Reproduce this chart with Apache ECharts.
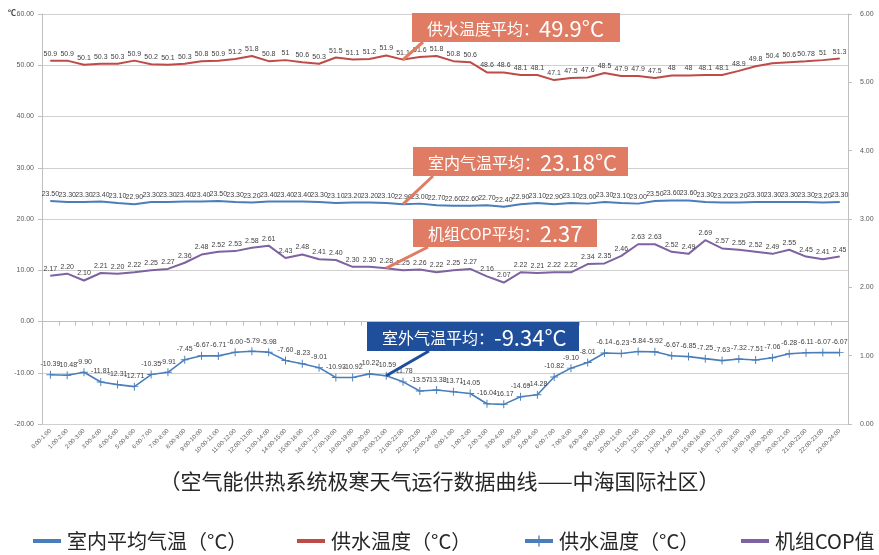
<!DOCTYPE html>
<html>
<head>
<meta charset="utf-8">
<script src="https://cdn.jsdelivr.net/npm/echarts@6/dist/echarts.min.js"></script>
<style>
html,body{margin:0;padding:0;background:#fff;}
#chart{width:879px;height:555px;}
</style>
</head>
<body>
<div id="chart"></div>
<script>
const hourSlots = ["0:00-1:00","1:00-2:00","2:00-3:00","3:00-4:00","4:00-5:00","5:00-6:00","6:00-7:00","7:00-8:00","8:00-9:00","9:00-10:00","10:00-11:00","11:00-12:00","12:00-13:00","13:00-14:00","14:00-15:00","15:00-16:00","16:00-17:00","17:00-18:00","18:00-19:00","19:00-20:00","20:00-21:00","21:00-22:00","22:00-23:00","23:00-24:00"];
const categories = hourSlots.concat(hourSlots);

const indoorTemp = [23.5,23.3,23.3,23.4,23.1,22.9,23.3,23.3,23.4,23.4,23.5,23.3,23.2,23.4,23.4,23.4,23.3,23.1,23.2,23.2,23.1,22.9,23.0,22.7,
  22.6,22.6,22.7,22.4,22.9,23.1,22.9,23.1,23.0,23.3,23.1,23.0,23.5,23.6,23.6,23.3,23.2,23.2,23.3,23.3,23.3,23.3,23.2,23.3];
const supplyTemp = [50.9,50.9,50.1,50.3,50.3,50.9,50.2,50.1,50.3,50.8,50.9,51.2,51.8,50.8,51,50.6,50.3,51.5,51.1,51.2,51.9,51.1,51.6,51.8,
  50.8,50.6,48.6,48.6,48.1,48.1,47.1,47.5,47.6,48.5,47.9,47.9,47.5,48,48,48.1,48.1,48.9,49.8,50.4,50.6,50.78,51,51.3];
const outdoorTemp = [-10.39,-10.48,-9.90,-11.81,-12.31,-12.71,-10.35,-9.91,-7.45,-6.67,-6.71,-6.00,-5.79,-5.98,-7.60,-8.23,-9.01,-10.93,-10.92,-10.22,-10.59,-11.78,-13.57,-13.38,
  -13.71,-14.05,-16.04,-16.17,-14.69,-14.28,-10.82,-9.10,-8.01,-6.14,-6.23,-5.84,-5.92,-6.67,-6.85,-7.25,-7.63,-7.32,-7.51,-7.06,-6.28,-6.11,-6.07,-6.07];
const copValues = [2.17,2.20,2.10,2.21,2.20,2.22,2.25,2.27,2.36,2.48,2.52,2.53,2.58,2.61,2.43,2.48,2.41,2.40,2.30,2.30,2.28,2.25,2.26,2.22,
  2.25,2.27,2.16,2.07,2.22,2.21,2.22,2.22,2.34,2.35,2.46,2.63,2.63,2.52,2.49,2.69,2.57,2.55,2.52,2.49,2.55,2.45,2.41,2.45];

const seriesNames = ["室内平均气温（°C）","供水温度（°C）","供水温度（°C） ","机组COP值"];
const legendLabels = ["室内平均气温（°C）","供水温度（°C）","供水温度（°C）","机组COP值"];
const titleText = "（空气能供热系统极寒天气运行数据曲线——中海国际社区）";
const notes = [
  {label:"供水温度平均：", value:"49.9°C"},
  {label:"室内气温平均：", value:"23.18°C"},
  {label:"机组COP平均：", value:"2.37"},
  {label:"室外气温平均：", value:"-9.34°C"}
];

const FONT = '"Noto Sans CJK SC","Noto Sans",sans-serif';
const SMALLFONT = '"Liberation Sans",Arial,sans-serif';
const cBlue = '#4A7EBB', cRed = '#BE4B48', cPurple = '#7E62A1';
const plusPath = 'path://M4.4,0H5.6V4.4H10V5.6H5.6V10H4.4V5.6H0V4.4H4.4Z';

const chart = echarts.init(document.getElementById('chart'), null, {renderer:'canvas'});

function lbl(fmt){
  return {show:true, position:'top', distance:3, fontSize:7, color:'#404040', fontFamily:SMALLFONT, formatter:fmt};
}

function legendAt(left, idx, withSymbol){
  const lg = {
    left:left, top:531, padding:0, itemWidth:28, itemHeight:withSymbol ? 14 : 4, itemGap:5,
    data:[{name:seriesNames[idx]}],
    formatter:function(){return legendLabels[idx];},
    textStyle:{fontSize:20, color:'#262626', fontFamily:FONT, padding:[0,0,0,1]},
    selectedMode:false
  };
  if (withSymbol) { lg.lineStyle = {width:4}; }
  else { lg.icon = 'rect'; }
  return lg;
}

const option = {
  animation:false,
  textStyle:{fontFamily:FONT},
  grid:{left:42, right:31, top:14, bottom:131, containLabel:false},
  legend:[legendAt(33,0,false), legendAt(297,1,false), legendAt(523,2,true), legendAt(741,3,false)],
  xAxis:{
    type:'category', data:categories, boundaryGap:true,
    axisLine:{lineStyle:{color:'#BFBFBF'}},
    axisTick:{show:true, interval:0, length:4, lineStyle:{color:'#BFBFBF'}},
    axisLabel:{interval:0, rotate:45, fontSize:6, color:'#595959', margin:6, fontFamily:SMALLFONT}
  },
  yAxis:[
    {type:'value', min:-20, max:60, interval:10, position:'left',
     axisLine:{show:true, lineStyle:{color:'#BFBFBF'}},
     axisTick:{show:true, length:4, lineStyle:{color:'#BFBFBF'}},
     axisLabel:{fontSize:7, color:'#595959', margin:8, formatter:v=>v.toFixed(2), fontFamily:SMALLFONT},
     splitLine:{show:true, lineStyle:{color:'#D0D0D0', width:1}}},
    {type:'value', min:0, max:6, interval:1, position:'right',
     axisLine:{show:true, lineStyle:{color:'#BFBFBF'}},
     axisTick:{show:true, length:4, lineStyle:{color:'#BFBFBF'}},
     axisLabel:{fontSize:7, color:'#595959', margin:12, formatter:v=>v.toFixed(2), fontFamily:SMALLFONT},
     splitLine:{show:false}}
  ],
  series:[
    {name:seriesNames[0], type:'line', yAxisIndex:0, data:indoorTemp, symbol:'circle', symbolSize:1, showSymbol:true, color:cBlue,
     itemStyle:{color:cBlue}, lineStyle:{color:cBlue, width:2}, label:lbl(p=>p.value.toFixed(2))},
    {name:seriesNames[1], type:'line', yAxisIndex:0, data:supplyTemp, symbol:'circle', symbolSize:1, showSymbol:true, color:cRed,
     itemStyle:{color:cRed}, lineStyle:{color:cRed, width:2}, label:lbl(p=>String(p.value))},
    {name:seriesNames[2], type:'line', yAxisIndex:0, data:outdoorTemp, symbol:plusPath, symbolSize:8, showSymbol:true, color:cBlue,
     itemStyle:{color:cBlue}, lineStyle:{color:cBlue, width:1.6}, label:lbl(p=>p.value.toFixed(2))},
    {name:seriesNames[3], type:'line', yAxisIndex:1, data:copValues, symbol:'circle', symbolSize:1, showSymbol:true, color:cPurple,
     itemStyle:{color:cPurple}, lineStyle:{color:cPurple, width:2}, label:lbl(p=>p.value.toFixed(2))}
  ]
};
chart.setOption(option);

// annotation callouts, anchored to data points via the chart's own scales
const boxes = [
  {x:412, y:13, w:208, h:29, color:'#E07B64', from:[423,42], anchor:[21, supplyTemp[21], 0]},
  {x:413, y:147, w:215, h:29, color:'#E07B64', from:[433,176], anchor:[21, indoorTemp[21], 0]},
  {x:413, y:219, w:184, h:28, color:'#E07B64', from:[428,247], anchor:[20, copValues[20], 1]},
  {x:367, y:322, w:212, h:29, color:'#1F4E9B', from:[429,351], anchor:[20, outdoorTemp[20], 0]}
];
const graphics = [];
boxes.forEach((b,i)=>{
  const pt = chart.convertToPixel({xAxisIndex:0, yAxisIndex:b.anchor[2]}, [b.anchor[0], b.anchor[1]]);
  graphics.push({type:'line', z:100, shape:{x1:b.from[0], y1:b.from[1], x2:pt[0], y2:pt[1]}, style:{stroke:b.color, lineWidth:3}});
  graphics.push({type:'rect', z:101, shape:{x:b.x, y:b.y, width:b.w, height:b.h}, style:{fill:b.color}});
  graphics.push({type:'text', z:102, x:b.x+15, y:b.y+b.h/2+1, style:{
    text:'{a|'+notes[i].label+'}{b|'+notes[i].value+'}', verticalAlign:'middle', align:'left',
    rich:{a:{fontSize:16, fill:'#fff', fontFamily:FONT}, b:{fontSize:22, fill:'#fff', fontFamily:FONT}}
  }});
});
graphics.push({type:'text', left:'center', top:471, style:{text:titleText, fontSize:21, fill:'#262626', fontFamily:FONT}});
graphics.push({type:'text', x:8, y:9, style:{text:'℃', fontSize:8, fontWeight:'bold', fill:'#404040', fontFamily:FONT}});
chart.setOption({graphic:graphics});
</script>
</body>
</html>
